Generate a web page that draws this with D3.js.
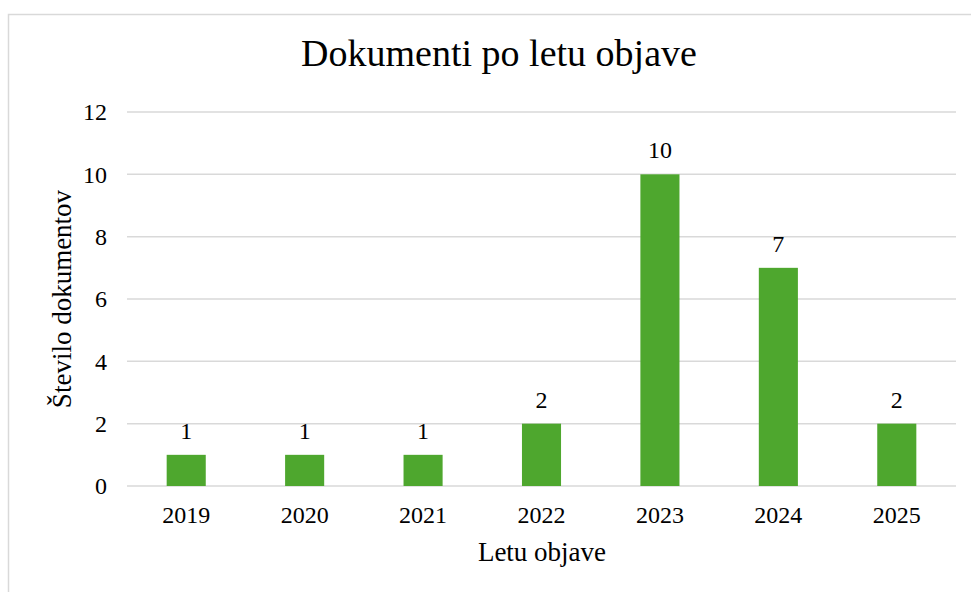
<!DOCTYPE html>
<html>
<head>
<meta charset="utf-8">
<script src="https://cdn.jsdelivr.net/npm/d3@7"></script>
<style>
  body { margin: 0; background: #fff; }
</style>
</head>
<body>
<script>
// podatki grafa
var years = ["2019", "2020", "2021", "2022", "2023", "2024", "2025"];
var counts = [1, 1, 1, 2, 10, 7, 2];
var yTicks = [0, 2, 4, 6, 8, 10, 12];

var W = 971, H = 592;
var FONT = "'Liberation Serif', 'Times New Roman', Times, serif";

var svg = d3.select("body").append("svg")
    .attr("width", W)
    .attr("height", H);

// okvir grafa
svg.append("rect")
    .attr("x", 8.5).attr("y", 14.5)
    .attr("width", W + 10).attr("height", H)
    .attr("fill", "none")
    .attr("stroke", "#d9d9d9")
    .attr("stroke-width", 1.5);

// x: pasovi za leta, y: linearna lestvica
var x = d3.scaleBand().domain(years).range([127, 956])
    .paddingInner(0.67).paddingOuter(0.335);
var y = d3.scaleLinear().domain([0, 12]).range([486, 112]);

// mreža
svg.append("g")
    .selectAll("line")
    .data(yTicks)
    .join("line")
    .attr("x1", 127).attr("x2", 956)
    .attr("y1", function (d) { return y(d); })
    .attr("y2", function (d) { return y(d); })
    .attr("stroke", "#d9d9d9")
    .attr("stroke-width", 1.5);

// y os
var yAxis = d3.axisLeft(y).tickValues(yTicks).tickSize(0).tickPadding(20);
svg.append("g")
    .attr("transform", "translate(127,0)")
    .call(yAxis)
    .call(function (g) { g.select(".domain").remove(); })
    .selectAll("text")
    .style("font-family", FONT)
    .style("font-size", "24px")
    .attr("fill", "#000");

// x os
var xAxis = d3.axisBottom(x).tickSize(0);
svg.append("g")
    .attr("transform", "translate(0,486)")
    .call(xAxis)
    .call(function (g) { g.select(".domain").remove(); })
    .selectAll("text")
    .attr("y", 37)
    .attr("dy", null)
    .style("font-family", FONT)
    .style("font-size", "24px")
    .attr("fill", "#000");

// stolpci
svg.append("g")
    .selectAll("rect")
    .data(counts)
    .join("rect")
    .attr("x", function (d, i) { return x(years[i]); })
    .attr("y", function (d) { return y(d); })
    .attr("width", x.bandwidth())
    .attr("height", function (d) { return y(0) - y(d); })
    .attr("fill", "#4ea72e");

// oznake vrednosti
svg.append("g")
    .selectAll("text")
    .data(counts)
    .join("text")
    .attr("x", function (d, i) { return x(years[i]) + x.bandwidth() / 2; })
    .attr("y", function (d) { return y(d) - 16; })
    .attr("text-anchor", "middle")
    .style("font-family", FONT)
    .style("font-size", "24px")
    .text(function (d) { return d; });

// naslov
svg.append("text")
    .attr("x", 499).attr("y", 66)
    .attr("text-anchor", "middle")
    .style("font-family", FONT)
    .style("font-size", "38px")
    .text("Dokumenti po letu objave");

// naslov y osi
svg.append("text")
    .attr("transform", "translate(71,299) rotate(-90)")
    .attr("text-anchor", "middle")
    .style("font-family", FONT)
    .style("font-size", "27px")
    .text("Število dokumentov");

// naslov x osi
svg.append("text")
    .attr("x", 542).attr("y", 561)
    .attr("text-anchor", "middle")
    .style("font-family", FONT)
    .style("font-size", "27px")
    .text("Letu objave");
</script>
</body>
</html>
